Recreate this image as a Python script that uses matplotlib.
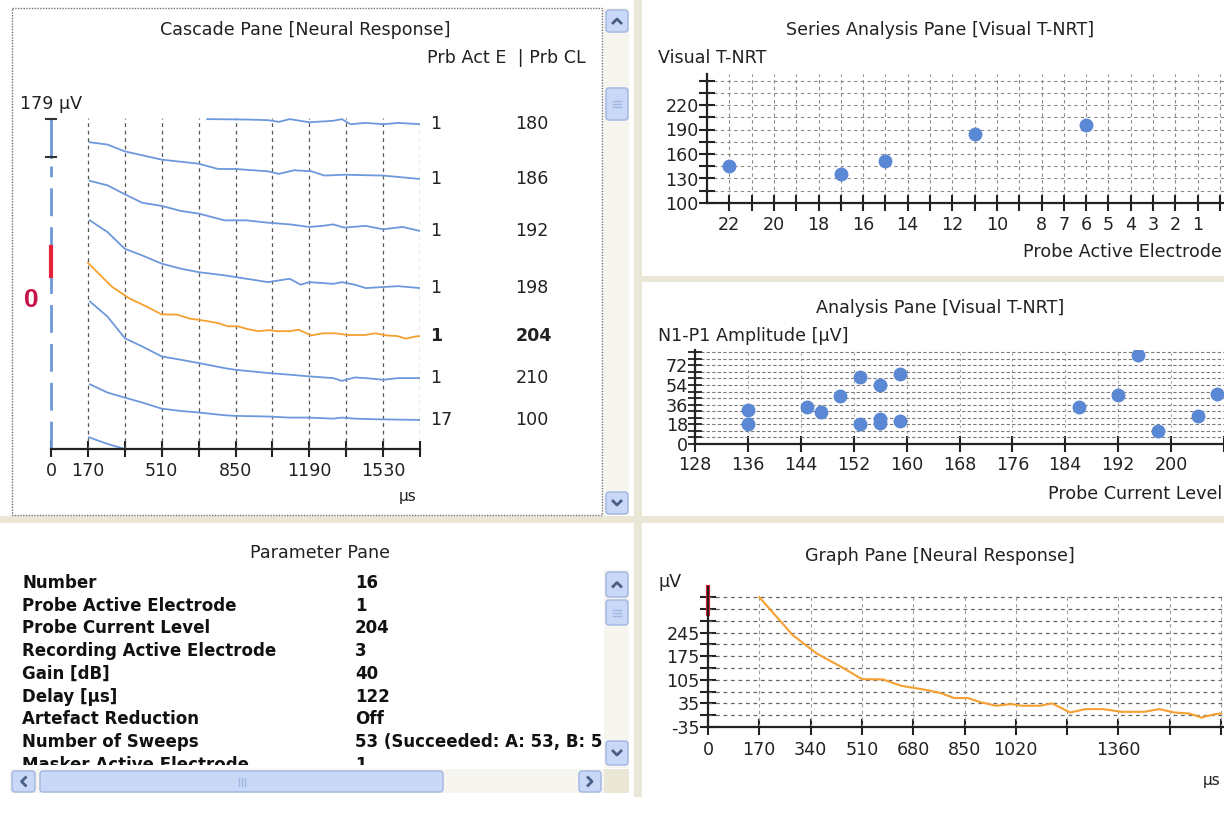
import numpy as np
import matplotlib.pyplot as plt
from matplotlib.patches import Rectangle, FancyBboxPatch

W, H = 1224, 827

# ---- data ----
# cascade pane: traces in uV, relative to each trace's end level
cascade_electrode = ["1", "1", "1", "1", "1", "1", "17"]
cascade_cl = ["180", "186", "192", "198", "204", "210", "100"]
cascade_baseline = [1530, 1272, 1027, 758, 527, 334, 137]

t_180 = [720, 900, 1000, 1050, 1100, 1190, 1300, 1340, 1380, 1450, 1530, 1600, 1700]
v_180 = [24, 22, 19, 11, 24, 9, 16, 24, 0, 6, 0, 6, 0]
t_186 = [179, 260, 340, 510, 680, 770, 850, 1000, 1050, 1120, 1200, 1260, 1350, 1530, 1700]
v_186 = [173, 162, 130, 91, 72, 47, 47, 36, 24, 41, 36, 16, 20, 16, 0]
t_192 = [179, 260, 340, 420, 510, 600, 680, 800, 900, 1000, 1100, 1190, 1250, 1300, 1350,
         1450, 1530, 1620, 1700]
v_192 = [236, 215, 173, 133, 118, 94, 82, 50, 50, 39, 31, 19, 24, 31, 16, 24, 8, 19, 0]
t_198 = [179, 260, 340, 420, 510, 600, 680, 800, 850, 1000, 1050, 1100, 1150, 1190, 1300,
         1340, 1400, 1450, 1530, 1600, 1700]
v_198 = [319, 264, 185, 154, 115, 91, 75, 60, 52, 28, 36, 44, 16, 28, 20, 28, 16, 0, 5, 9, 0]
t_210 = [179, 260, 340, 420, 510, 600, 680, 800, 850, 1000, 1100, 1190, 1300, 1340, 1400,
         1450, 1530, 1600, 1700]
v_210 = [361, 290, 188, 149, 102, 86, 71, 47, 39, 24, 16, 8, 0, -13, 3, 0, -8, 0, 0]
t_100 = [179, 260, 340, 420, 510, 600, 680, 800, 850, 1000, 1100, 1190, 1300, 1340, 1400,
         1500, 1700]
v_100 = [168, 129, 105, 82, 53, 42, 35, 22, 19, 16, 11, 11, 6, 11, 6, 3, 0]
t_next = [175, 260, 340, 390]
v_next = [55, 24, 0, 0]

# selected trace (Prb CL 204), also shown in the graph pane
t_204 = [170, 280, 360, 440, 510, 580, 640, 710, 770, 815, 860, 905, 955, 1005, 1040, 1100,
         1140, 1200, 1250, 1310, 1370, 1445, 1495, 1545, 1595, 1635, 1680, 1700]
v_204 = [350, 238, 183, 144, 107, 106, 87, 77, 66, 51, 51, 38, 28, 33, 28, 28, 35, 8, 18, 18,
         10, 10, 18, 8, 5, -7, 3, 5]

cascade_ticks = [0, 170, 340, 510, 680, 850, 1020, 1190, 1360, 1530, 1700]
cascade_ticklabels = ["0", "170", "", "510", "", "850", "", "1190", "", "1530", ""]

# series analysis pane
series_electrode = [22, 17, 15, 11, 6]
series_tnrt = [145, 135, 151, 185, 196]
series_xticks = list(range(0, 23))
series_xlabels_shown = [22, 20, 18, 16, 14, 12, 10, 8, 7, 6, 5, 4, 3, 2, 1]
series_yticks = list(range(100, 251, 15))
series_ylabels_shown = [100, 130, 160, 190, 220]

# analysis pane
analysis_cl = [136, 136, 145, 147, 150, 153, 153, 156, 156, 156, 159, 159, 186, 192, 195, 198, 204, 207]
analysis_amp = [31, 18, 34, 29, 44, 61, 18, 54, 23, 19, 64, 21, 34, 45, 81, 12, 26, 46]
analysis_xticks = list(range(128, 209, 8))
analysis_xlabels_shown = [128, 136, 144, 152, 160, 168, 176, 184, 192, 200]
analysis_yticks = list(range(0, 85, 6))
analysis_ylabels_shown = [0, 18, 36, 54, 72]

# graph pane
graph_xticks = [0, 170, 340, 510, 680, 850, 1020, 1190, 1360, 1530, 1700]
graph_xticklabels = ["0", "170", "340", "510", "680", "850", "1020", "", "1360", "", ""]
graph_yticks = list(range(-35, 351, 35))
graph_ylabels_shown = [-35, 35, 105, 175, 245]

# parameter pane
param_names = ["Number", "Probe Active Electrode", "Probe Current Level",
               "Recording Active Electrode", "Gain [dB]", "Delay [µs]",
               "Artefact Reduction", "Number of Sweeps", "Masker Active Electrode"]
param_values = ["16", "1", "204", "3", "40", "122", "Off",
                "53 (Succeeded: A: 53, B: 5", "1"]

# ---- style ----
plt.rcParams['font.family'] = ['DejaVu Sans']
FS = 12.6
BLUE = '#6e98dc'
DOT = '#5a88d4'
ORANGE = '#f5a030'
BEIGE = '#ebe7d6'
TXT = '#222222'


def box(l, t, r, b):
    return [l / W, 1 - b / H, (r - l) / W, (b - t) / H]


fig = plt.figure(figsize=(W / 100, H / 100), dpi=100)
fig.patch.set_facecolor('white')

# overlay in pixel coordinates for the window chrome
ov = fig.add_axes([0, 0, 1, 1], zorder=0)
ov.set_xlim(0, W)
ov.set_ylim(H, 0)
ov.axis('off')

# separators
ov.add_patch(Rectangle((634, 0), 8, 797, fc=BEIGE, ec='none'))
ov.add_patch(Rectangle((0, 516), W, 7, fc=BEIGE, ec='none'))
ov.add_patch(Rectangle((640, 276), W - 640, 6, fc=BEIGE, ec='none'))
ov.add_patch(Rectangle((12, 8), 590, 507, fill=False, ec='#707070', lw=1, ls=(0, (1, 1))))


def button(x0, y0, x1, y1, arrow=None):
    ov.add_patch(FancyBboxPatch((x0, y0), x1 - x0, y1 - y0,
                                boxstyle="round,pad=0,rounding_size=3",
                                fc='#c9d8f6', ec='#9fb5e2', lw=1))
    cx, cy = (x0 + x1) / 2, (y0 + y1) / 2
    c = '#4a5f86'
    if arrow == 'up':
        ov.plot([cx - 4, cx, cx + 4], [cy + 2, cy - 2, cy + 2], color=c, lw=2)
    elif arrow == 'down':
        ov.plot([cx - 4, cx, cx + 4], [cy - 2, cy + 2, cy - 2], color=c, lw=2)
    elif arrow == 'left':
        ov.plot([cx + 2, cx - 2, cx + 2], [cy - 4, cy, cy + 4], color=c, lw=2)
    elif arrow == 'right':
        ov.plot([cx - 2, cx + 2, cx - 2], [cy - 4, cy, cy + 4], color=c, lw=2)
    elif arrow == 'vgrip':
        for d in (-3, 0, 3):
            ov.plot([cx - 4, cx + 4], [cy + d, cy + d], color='#9fb5e2', lw=1)
    elif arrow == 'hgrip':
        for d in (-3, 0, 3):
            ov.plot([cx + d, cx + d], [cy - 4, cy + 4], color='#9fb5e2', lw=1)


# cascade scrollbar
ov.add_patch(Rectangle((604, 8), 25, 507, fc='#f6f5ef', ec='none'))
button(606, 10, 628, 32, 'up')
button(606, 88, 628, 120, 'vgrip')
button(606, 492, 628, 514, 'down')
# parameter scrollbars
ov.add_patch(Rectangle((604, 570), 25, 198, fc='#f6f5ef', ec='none'))
button(606, 572, 628, 597, 'up')
button(606, 600, 628, 625, 'vgrip')
button(606, 741, 628, 765, 'down')
ov.add_patch(Rectangle((10, 769), 594, 24, fc='#f6f5ef', ec='none'))
ov.add_patch(Rectangle((604, 769), 25, 24, fc=BEIGE, ec='none'))
button(12, 771, 35, 792, 'left')
button(40, 771, 443, 792, 'hgrip')
button(579, 771, 601, 792, 'right')

# titles and labels
ov.text(305, 30, "Cascade Pane [Neural Response]", ha='center', va='center', fontsize=FS, color=TXT)
ov.text(586, 58, "Prb Act E  | Prb CL", ha='right', va='center', fontsize=FS, color=TXT)
ov.text(51, 104, "179 µV", ha='center', va='center', fontsize=FS, color=TXT)
ov.text(408, 497, "µs", ha='center', va='center', fontsize=FS - 1.5, color=TXT)
ov.text(31, 300, "0", ha='center', va='center', fontsize=19, fontweight='bold',
        color='#c8124a', family='Liberation Sans')
ov.text(940, 30, "Series Analysis Pane [Visual T-NRT]", ha='center', va='center', fontsize=FS, color=TXT)
ov.text(658, 58, "Visual T-NRT", ha='left', va='center', fontsize=FS, color=TXT)
ov.text(1222, 252, "Probe Active Electrode", ha='right', va='center', fontsize=FS, color=TXT)
ov.text(940, 308, "Analysis Pane [Visual T-NRT]", ha='center', va='center', fontsize=FS, color=TXT)
ov.text(658, 336, "N1-P1 Amplitude [µV]", ha='left', va='center', fontsize=FS, color=TXT)
ov.text(1222, 494, "Probe Current Level", ha='right', va='center', fontsize=FS, color=TXT)
ov.text(940, 556, "Graph Pane [Neural Response]", ha='center', va='center', fontsize=FS, color=TXT)
ov.text(670, 582, "µV", ha='center', va='center', fontsize=FS, color=TXT)
ov.text(1212, 780, "µs", ha='center', va='center', fontsize=FS - 1.5, color=TXT)
ov.text(320, 553, "Parameter Pane", ha='center', va='center', fontsize=FS, color=TXT)

# ---- cascade pane ----
UV_PER_PX = 179 / 38
ax = fig.add_axes(box(51, 100, 420, 449), zorder=2)
ax.set_facecolor('none')
ax.set_xlim(0, 1700)
ax.set_ylim(0, (449 - 100) * UV_PER_PX)
for s in ('top', 'right', 'left'):
    ax.spines[s].set_visible(False)
ax.spines['bottom'].set_linewidth(1.6)
ax.spines['bottom'].set_color('#222222')
ax.set_yticks([])
ax.set_xticks(cascade_ticks)
ax.set_xticklabels(cascade_ticklabels)
ax.tick_params(axis='x', direction='inout', length=11, width=1.5, pad=4,
               labelsize=FS, labelcolor=TXT, color='#222222')
ax.vlines(cascade_ticks[1:], 0, (449 - 118) * UV_PER_PX, colors='#555555',
          linestyles=(0, (3, 3)), lw=0.9)

traces = [(t_180, v_180), (t_186, v_186), (t_192, v_192), (t_198, v_198),
          (t_204, v_204), (t_210, v_210), (t_100, v_100)]
for i, (tt, vv) in enumerate(traces):
    col = ORANGE if cascade_cl[i] == "204" else BLUE
    ax.plot(tt, np.array(vv) + cascade_baseline[i], color=col, lw=1.3)
    end = vv[-1] + cascade_baseline[i]
    fw = 'bold' if cascade_cl[i] == "204" else 'normal'
    ax.text(1746, end, cascade_electrode[i], ha='left', va='center', fontsize=FS,
            fontweight=fw, color=TXT, clip_on=False)
    ax.text(2140, end, cascade_cl[i], ha='left', va='center', fontsize=FS,
            fontweight=fw, color=TXT, clip_on=False)
ax.plot(t_next, v_next, color=BLUE, lw=1.3)

# amplitude scale bar and zero line at t = 0
top_bar = (449 - 119) * UV_PER_PX
ax.plot([0, 0], [top_bar - 179, top_bar], color=BLUE, lw=2, clip_on=False)
for yb in (top_bar - 179, top_bar):
    ax.plot([-25, 25], [yb, yb], color='#333333', lw=1.5, clip_on=False)
ax.plot([0, 0], [0, (449 - 166) * UV_PER_PX], color=BLUE, lw=2, dashes=(10, 4), clip_on=False)
ax.plot([0, 0], [(449 - 276) * UV_PER_PX, (449 - 247) * UV_PER_PX], color='#e8213a', lw=3,
        clip_on=False)

# ---- series analysis pane ----
sx = fig.add_axes(box(707, 74, 1224, 203), zorder=2)
sx.set_facecolor('none')
sx.set_xlim(23, 23 - (1224 - 707) / 22.3)
sx.set_ylim(100, 100 + (203 - 74) / (24.5 / 30))
for s in ('top', 'right'):
    sx.spines[s].set_visible(False)
for s in ('left', 'bottom'):
    sx.spines[s].set_linewidth(1.6)
    sx.spines[s].set_color('#222222')
sx.set_xticks(series_xticks)
sx.set_xticklabels([str(v) if v in series_xlabels_shown else "" for v in series_xticks])
sx.set_yticks(series_yticks)
sx.set_yticklabels([str(v) if v in series_ylabels_shown else "" for v in series_yticks])
sx.tick_params(direction='inout', length=12, width=1.5, labelsize=FS, labelcolor=TXT,
               color='#222222')
sx.tick_params(axis='x', pad=3)
sx.tick_params(axis='y', pad=0)
sx.grid(True, color='#8a8a8a', ls=(0, (3, 3)), lw=0.8)
sx.plot(series_electrode, series_tnrt, 'o', color=DOT, ms=10, mec='none')

# ---- analysis pane ----
px_per_cl = 53 / 8
anx = fig.add_axes(box(695, 350, 1224, 444), zorder=2)
anx.set_facecolor('none')
anx.set_xlim(128, 128 + (1224 - 695) / px_per_cl)
anx.set_ylim(0, 86)
for s in ('top', 'right'):
    anx.spines[s].set_visible(False)
for s in ('left', 'bottom'):
    anx.spines[s].set_linewidth(1.6)
    anx.spines[s].set_color('#222222')
anx.set_xticks(analysis_xticks)
anx.set_xticklabels([str(v) if v in analysis_xlabels_shown else "" for v in analysis_xticks])
anx.set_yticks(analysis_yticks)
anx.set_yticklabels([str(v) if v in analysis_ylabels_shown else "" for v in analysis_yticks])
anx.tick_params(direction='inout', length=12, width=1.5, labelsize=FS, labelcolor=TXT,
                color='#222222')
anx.tick_params(axis='y', length=10, width=1.3)
anx.tick_params(axis='x', pad=3)
anx.tick_params(axis='y', pad=0)
anx.grid(True, axis='y', color='#7a7a7a', ls=(0, (3, 2)), lw=0.8)
anx.grid(True, axis='x', color='#a0a0a0', ls=(0, (2, 3)), lw=0.8)
anx.plot(analysis_cl, analysis_amp, 'o', color=DOT, ms=10, mec='none')

# ---- graph pane ----
gx = fig.add_axes(box(708, 587, 1224, 727), zorder=2)
gx.set_facecolor('none')
gx.set_xlim(0, (1224 - 708) / 0.3018)
gx.set_ylim(-35, 380)
for s in ('top', 'right'):
    gx.spines[s].set_visible(False)
for s in ('left', 'bottom'):
    gx.spines[s].set_linewidth(1.6)
    gx.spines[s].set_color('#222222')
gx.set_xticks(graph_xticks)
gx.set_xticklabels(graph_xticklabels)
gx.set_yticks(graph_yticks)
gx.set_yticklabels([str(v) if v in graph_ylabels_shown else "" for v in graph_yticks])
gx.tick_params(direction='inout', length=12, width=1.5, labelsize=FS, labelcolor=TXT,
               color='#222222')
gx.tick_params(axis='x', pad=4)
gx.tick_params(axis='y', pad=0)
gx.hlines(graph_yticks[1:], 0, gx.get_xlim()[1], colors='#666666', linestyles=(0, (3, 3)), lw=0.9)
gx.vlines(graph_xticks[1:], -35, 350, colors='#9a9a9a', linestyles=(0, (3, 3)), lw=0.8)
gx.plot(t_204, v_204, color=ORANGE, lw=1.5)
gx.plot([0, 0], [300, 380], color='#e8213a', lw=3, clip_on=False)

# ---- parameter pane ----
pax = fig.add_axes(box(12, 570, 603, 765), zorder=2)
pax.set_xlim(12, 603)
pax.set_ylim(765, 570)
pax.axis('off')
for i, (name, val) in enumerate(zip(param_names, param_values)):
    y = 583 + i * 22.7
    pax.text(22, y, name, ha='left', va='center', fontsize=12, fontweight='bold',
             color='#111111', clip_on=True)
    pax.text(355, y, val, ha='left', va='center', fontsize=12, fontweight='bold',
             color='#111111', clip_on=True)

fig.savefig('out.png', dpi=100)
